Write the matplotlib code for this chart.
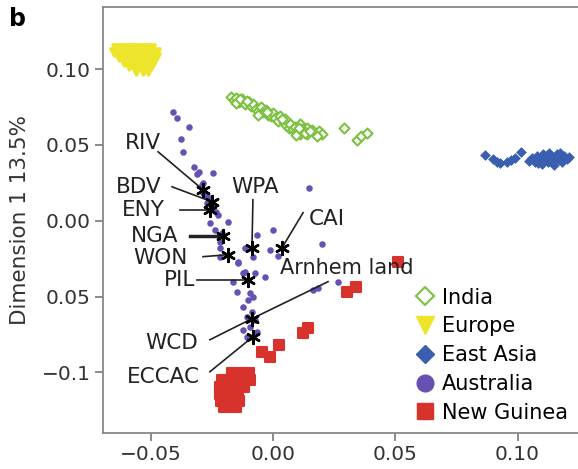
import matplotlib
matplotlib.use("Agg")
import matplotlib.pyplot as plt
from matplotlib.lines import Line2D

# --- data ---
europe_x = [-0.064, -0.061, -0.058, -0.055, -0.052, -0.050,
            -0.065, -0.062, -0.059, -0.056, -0.053, -0.050, -0.048,
            -0.063, -0.060, -0.057, -0.054, -0.051, -0.048,
            -0.061, -0.058, -0.055, -0.052, -0.049,
            -0.059, -0.056, -0.053, -0.050,
            -0.056, -0.053, -0.051]
europe_y = [0.114] * 6 + [0.111] * 7 + [0.108] * 6 + [0.105] * 5 + [0.102] * 4 + [0.099] * 3

india_x = [-0.0170, -0.0160, -0.0150, -0.0140, -0.0125, -0.0115, -0.0100, -0.0090, -0.0080,
           -0.0070, -0.0060, -0.0050, -0.0040, -0.0030, -0.0020, -0.0010, 0.0000, 0.0010,
           0.0020, 0.0030, 0.0045, 0.0055, 0.0065, 0.0070, 0.0080, 0.0090, 0.0100, 0.0110,
           0.0095, 0.0125, 0.0140, 0.0160, 0.0190, 0.0200, 0.0180, 0.0290, 0.0345, 0.0360,
           0.0385, 0.0050, -0.0150, -0.0060, 0.0110, 0.0140, 0.0120, 0.0130, 0.0105,
           -0.0135, -0.0105, -0.0025, 0.0035, 0.0150]
india_y = [0.0815, 0.0795, 0.0810, 0.0785, 0.0800, 0.0770, 0.0780, 0.0755, 0.0770,
           0.0740, 0.0725, 0.0750, 0.0715, 0.0730, 0.0700, 0.0690, 0.0710, 0.0675,
           0.0660, 0.0690, 0.0650, 0.0630, 0.0615, 0.0640, 0.0605, 0.0620, 0.0595, 0.0575,
           0.0565, 0.0590, 0.0570, 0.0600, 0.0590, 0.0570, 0.0560, 0.0610, 0.0530, 0.0560,
           0.0580, 0.0670, 0.0775, 0.0700, 0.0640, 0.0610, 0.0605, 0.0580, 0.0610,
           0.0805, 0.0790, 0.0715, 0.0670, 0.0590]

eastasia_x = [0.0867, 0.0899, 0.0915, 0.0928, 0.0957, 0.0975, 0.0989, 0.1014,
              0.1045, 0.1060, 0.1070, 0.1080, 0.1090, 0.1100, 0.1105, 0.1115, 0.1125, 0.1130,
              0.1140, 0.1150, 0.1160, 0.1170, 0.1180, 0.1190, 0.1200, 0.1210, 0.1150, 0.1120,
              0.1085, 0.1175]
eastasia_y = [0.0435, 0.0410, 0.0385, 0.0383, 0.0389, 0.0400, 0.0416, 0.0455,
              0.0395, 0.0415, 0.0385, 0.0425, 0.0400, 0.0375, 0.0440, 0.0410, 0.0385, 0.0450,
              0.0420, 0.0395, 0.0440, 0.0410, 0.0385, 0.0430, 0.0405, 0.0420, 0.0370, 0.0430,
              0.0380, 0.0450]

australia_x = [-0.0409, -0.0392, -0.0343, -0.0376, -0.0368, -0.0323, -0.0303, -0.0311, -0.0245,
               -0.0286, -0.0290, -0.0286, -0.0258, -0.0245, -0.0225, -0.0184, -0.0258, -0.0237,
               -0.0209, -0.0217, -0.0217, -0.0217, -0.0143, -0.0065, -0.0114, -0.0082, 0.0000,
               -0.0012, 0.0147, 0.0200, 0.0020, -0.0114, -0.0033, -0.0143, -0.0074, -0.0123,
               -0.0164, -0.0147, -0.0094, -0.0082, -0.0102, -0.0123, -0.0086, -0.0106, -0.0074,
               -0.0123, -0.0094, -0.0065, -0.0106, 0.0266, 0.0184, 0.0164, -0.0274, -0.0233,
               -0.0270]
australia_y = [0.0719, 0.0679, 0.0620, 0.0541, 0.0455, 0.0356, 0.0323, 0.0310, 0.0317,
               0.0251, 0.0237, 0.0185, 0.0152, 0.0092, 0.0040, -0.0007, -0.0013, -0.0059,
               -0.0079, -0.0139, -0.0178, -0.0237, -0.0270, -0.0092, -0.0178, -0.0237, -0.0059,
               -0.0191, 0.0218, -0.0152, -0.0231, -0.0336, -0.0369, -0.0277, -0.0343, -0.0343,
               -0.0402, -0.0468, -0.0475, -0.0501, -0.0521, -0.0567, -0.0600, -0.0633, -0.0653,
               -0.0719, -0.0699, -0.0732, -0.0765, -0.0402, -0.0442, -0.0455, 0.0172, 0.0059,
               0.0119]

newguinea_x = [-0.0168, -0.0143, -0.0119, -0.0098,
               -0.0209, -0.0184, -0.0159, -0.0135, -0.0110, -0.0094,
               -0.0217, -0.0192, -0.0168, -0.0143, -0.0119,
               -0.0217, -0.0192, -0.0168, -0.0143,
               -0.0213, -0.0188, -0.0164, -0.0139,
               -0.0200, -0.0176, -0.0151,
               -0.0045, -0.0012, 0.0025, 0.0123, 0.0143, 0.0303, 0.0339, 0.0511]
newguinea_y = [-0.1003] * 4 + [-0.1049] * 6 + [-0.1095] * 5 + [-0.1141] * 4 + [-0.1187] * 4 + [-0.1227] * 3 + \
              [-0.0864, -0.0897, -0.0818, -0.0739, -0.0706, -0.0468, -0.0435, -0.0270]

# starred sampling sites and their labels
site_names = ["RIV", "BDV", "ENY", "NGA", "WON", "WPA", "CAI", "PIL", "WCD", "ECCAC"]
site_x = [-0.0286, -0.0249, -0.0258, -0.0204, -0.0184, -0.0086, 0.0037, -0.0102, -0.0086, -0.0082]
site_y = [0.0204, 0.0125, 0.0073, -0.0099, -0.0224, -0.0178, -0.0178, -0.0389, -0.0646, -0.0765]
label_x = [-0.0531, -0.0548, -0.0531, -0.0482, -0.0462, -0.0074, 0.0221, -0.0380, -0.0413, -0.0450]
label_y = [0.0515, 0.0224, 0.0073, -0.0099, -0.0244, 0.0224, 0.0013, -0.0389, -0.0805, -0.1029]
line_x = [-0.0470, -0.0413, -0.0380, -0.0339, -0.0286, -0.0082, 0.0123, -0.0311, -0.0258, -0.0258]
line_y = [0.0455, 0.0224, 0.0073, -0.0099, -0.0237, 0.0139, 0.0053, -0.0389, -0.0785, -0.0996]

arnhem_label = (0.0303, -0.0310)
arnhem_line = (0.0225, -0.0402)

green = "#7dc142"
yellow = "#ece52c"
blue = "#3a5fb0"
purple = "#6650b4"
red = "#d8322c"

fig = plt.figure(figsize=(5.78, 4.69), dpi=100)
ax = fig.add_axes([0.1782, 0.0768, 0.8218, 0.9083])

ax.scatter(europe_x, europe_y, marker="v", s=30, color=yellow, edgecolors=yellow,
           linewidths=2.2, zorder=2)
ax.scatter(india_x, india_y, marker="D", s=26, facecolors="white", edgecolors=green,
           linewidths=1.5, zorder=2)
ax.scatter(eastasia_x, eastasia_y, marker="D", s=30, color=blue, linewidths=0, zorder=2)
ax.scatter(newguinea_x, newguinea_y, marker="s", s=60, color=red, edgecolors=red,
           linewidths=1.5, zorder=2)
ax.scatter(australia_x, australia_y, marker="o", s=22, color=purple, linewidths=0, zorder=3)

for i, name in enumerate(site_names):
    lw = 2.5 if name == "NGA" else 1.2
    ax.plot([line_x[i], site_x[i]], [line_y[i], site_y[i]], color="#222222", lw=lw, zorder=4)
    ax.text(label_x[i], label_y[i], name, fontsize=15.5, color="#222222",
            ha="center", va="center", zorder=5)
ax.plot([arnhem_line[0], site_x[8]], [arnhem_line[1], site_y[8]], color="#222222", lw=1.2, zorder=4)
ax.text(arnhem_label[0], arnhem_label[1], "Arnhem land", fontsize=15, color="#222222",
        ha="center", va="center", zorder=5)
ax.scatter(site_x, site_y, marker=(6, 2, 0), s=85, color="black", linewidths=1.8, zorder=6)

ax.set_xlim(-0.0695, 0.1247)
ax.set_ylim(-0.140, 0.141)
ax.set_xticks([-0.05, 0.0, 0.05, 0.10])
ax.set_xticklabels(["\u22120.05", "0.00", "0.05", "0.10"])
ax.set_yticks([0.10, 0.05, 0.0, -0.05, -0.1])
ax.set_yticklabels(["0.10", "0.05", "0.00", "0.05", "\u22120.1"])
ax.tick_params(direction="out", length=6, width=1.2, color="#777777",
               labelsize=14.5, labelcolor="#333333", pad=3)
for side in ["left", "bottom", "top"]:
    ax.spines[side].set_color("#888888")
    ax.spines[side].set_linewidth(1.3)
ax.spines["right"].set_visible(False)

ax.set_ylabel("Dimension 1 13.5%", fontsize=15.5, color="#333333", labelpad=8)

handles = [
    Line2D([], [], ls="none", marker="D", ms=9, mfc="white", mec=green, mew=1.5, label="India"),
    Line2D([], [], ls="none", marker="v", ms=13, color=yellow, label="Europe"),
    Line2D([], [], ls="none", marker="D", ms=9, color=blue, label="East Asia"),
    Line2D([], [], ls="none", marker="o", ms=12, color=purple, label="Australia"),
    Line2D([], [], ls="none", marker="s", ms=12, color=red, label="New Guinea"),
]
ax.legend(handles=handles, loc="lower right", bbox_to_anchor=(1.0, 0.0), frameon=False,
          fontsize=15, handletextpad=0.2, labelspacing=0.42, handlelength=1.2,
          borderaxespad=0.1)

fig.text(0.015, 0.945, "b", fontsize=17, fontweight="bold")

fig.savefig("out.png", dpi=100)
